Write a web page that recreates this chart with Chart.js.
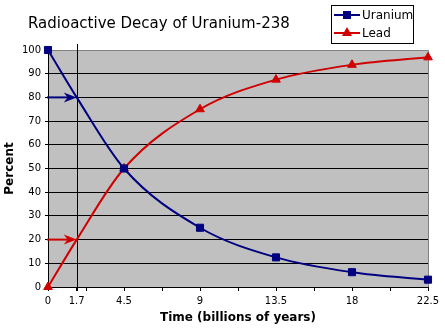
<!DOCTYPE html>
<html>
<head>
<meta charset="utf-8">
<script src="https://cdn.jsdelivr.net/npm/chart.js@4"></script>
<style>
  html, body { margin: 0; padding: 0; background: #fff; }
  #wrap { width: 445px; height: 328px; position: relative; }
</style>
</head>
<body>
<div id="wrap"><canvas id="decay"></canvas></div>
<script>
// data
const years = [0, 1.7, 4.5, 9, 13.5, 18, 22.5];
const uranium = [100, 80, 50, 25, 12.5, 6.25, 3.1];
const lead = [0, 20, 50, 75, 87.5, 93.75, 96.9];
const showMarker = [true, false, true, true, true, true, true];
const xLabels = [0, 1.7, 4.5, 9, 13.5, 18, 22.5];
const xMinorTicks = [2.25, 6.75, 11.25, 15.75, 20.25];
const markedYear = 1.7;
const arrowLevels = [80, 20];

const NAVY = '#000080';
const RED = '#d00000';
const FONT = "'DejaVu Sans', Verdana, sans-serif";

function pts(ys) {
    return years.map((x, i) => ({ x: x, y: ys[i] }));
}

// gray plot area, borders, 1.7 line, arrows, title and legend
const decorPlugin = {
    id: 'decor',
    beforeDraw(chart) {
        const { ctx, chartArea: a } = chart;
        ctx.save();
        ctx.fillStyle = '#c0c0c0';
        ctx.fillRect(a.left, a.top, a.right - a.left, a.bottom - a.top);
        ctx.restore();
    },
    beforeDatasetsDraw(chart) {
        const { ctx, chartArea: a, scales } = chart;
        ctx.save();
        // gray frame top/right
        ctx.strokeStyle = '#808080';
        ctx.lineWidth = 1;
        ctx.beginPath();
        ctx.moveTo(a.left, a.top + 0.5);
        ctx.lineTo(a.right + 0.5, a.top + 0.5);
        ctx.lineTo(a.right + 0.5, a.bottom);
        ctx.stroke();
        // vertical line at 1.7
        const vx = Math.round(scales.x.getPixelForValue(markedYear)) + 0.5;
        ctx.strokeStyle = '#000';
        ctx.beginPath();
        ctx.moveTo(vx, a.top - 6);
        ctx.lineTo(vx, a.bottom + 4);
        ctx.stroke();
        ctx.restore();
    },
    afterDatasetsDraw(chart) {
        const { ctx, chartArea: a, scales } = chart;
        const tipX = scales.x.getPixelForValue(markedYear);
        const colors = [NAVY, RED];
        ctx.save();
        arrowLevels.forEach((lvl, i) => {
            const y = scales.y.getPixelForValue(lvl);
            ctx.strokeStyle = colors[i];
            ctx.fillStyle = colors[i];
            ctx.lineWidth = 2;
            ctx.beginPath();
            ctx.moveTo(a.left - 1, y);
            ctx.lineTo(tipX - 6, y);
            ctx.stroke();
            ctx.beginPath();
            ctx.moveTo(tipX, y);
            ctx.lineTo(tipX - 13, y - 5);
            ctx.lineTo(tipX - 9, y);
            ctx.lineTo(tipX - 13, y + 5);
            ctx.closePath();
            ctx.fill();
        });
        ctx.restore();
    },
    afterDraw(chart) {
        const { ctx } = chart;
        ctx.save();
        // title
        ctx.fillStyle = '#000';
        ctx.font = '15px ' + FONT;
        ctx.textBaseline = 'middle';
        ctx.textAlign = 'left';
        ctx.fillText('Radioactive Decay of Uranium-238', 28, 24);
        // legend box
        ctx.strokeStyle = '#000';
        ctx.lineWidth = 1;
        ctx.strokeRect(331.5, 5.5, 82, 38);
        ctx.font = '12px ' + FONT;
        chart.data.datasets.forEach((ds, i) => {
            const y = 15 + i * 18;
            ctx.strokeStyle = ds.borderColor;
            ctx.lineWidth = 2;
            ctx.beginPath();
            ctx.moveTo(334, y);
            ctx.lineTo(360, y);
            ctx.stroke();
            ctx.fillStyle = ds.pointBackgroundColor;
            if (ds.pointStyle === 'rect') {
                ctx.fillRect(343, y - 4, 8, 8);
            } else {
                ctx.beginPath();
                ctx.moveTo(347, y - 6);
                ctx.lineTo(352, y + 3);
                ctx.lineTo(342, y + 3);
                ctx.closePath();
                ctx.fill();
            }
            ctx.fillStyle = '#000';
            ctx.fillText(ds.label, 362, y + 1);
        });
        ctx.restore();
    }
};

new Chart(document.getElementById('decay'), {
    type: 'line',
    data: {
        datasets: [{
            label: 'Uranium',
            data: pts(uranium),
            borderColor: NAVY,
            borderWidth: 2,
            pointStyle: 'rect',
            pointBackgroundColor: NAVY,
            pointBorderColor: NAVY,
            pointBorderWidth: 1,
            pointRadius: showMarker.map(s => s ? 5 : 0),
            cubicInterpolationMode: 'monotone',
            clip: false
        }, {
            label: 'Lead',
            data: pts(lead),
            borderColor: RED,
            borderWidth: 2,
            pointStyle: 'triangle',
            pointBackgroundColor: RED,
            pointBorderColor: RED,
            pointBorderWidth: 1,
            pointRadius: showMarker.map(s => s ? 5 : 0),
            cubicInterpolationMode: 'monotone',
            clip: false
        }]
    },
    options: {
        responsive: true,
        maintainAspectRatio: false,
        animation: false,
        layout: { padding: { top: 50, right: 17, left: 0, bottom: 0 } },
        plugins: {
            legend: { display: false },
            title: { display: false },
            tooltip: { enabled: false }
        },
        scales: {
            x: {
                type: 'linear',
                min: 0,
                max: 22.5,
                afterBuildTicks(scale) {
                    scale.ticks = xLabels.concat(xMinorTicks)
                        .sort((p, q) => p - q)
                        .map(v => ({ value: v }));
                },
                afterFit(scale) { scale.height = 41; },
                ticks: {
                    autoSkip: false,
                    maxRotation: 0,
                    padding: 4,
                    color: '#000',
                    font: { family: FONT, size: 10 },
                    callback: v => xLabels.includes(v) ? String(v) : ''
                },
                grid: {
                    drawOnChartArea: false,
                    drawTicks: true,
                    tickLength: 4,
                    color: '#000'
                },
                border: { color: '#000', width: 1 },
                title: {
                    display: true,
                    text: 'Time (billions of years)',
                    color: '#000',
                    font: { family: FONT, size: 12, weight: 'bold' },
                    padding: { top: 0, bottom: 3 }
                }
            },
            y: {
                min: 0,
                max: 100,
                afterFit(scale) { scale.width = 48; },
                ticks: {
                    stepSize: 10,
                    padding: 4,
                    color: '#000',
                    font: { family: FONT, size: 10 }
                },
                grid: {
                    color: ctx => ctx.tick && ctx.tick.value === 100 ? '#808080' : '#000',
                    tickLength: 3,
                    lineWidth: 1
                },
                border: { color: '#000', width: 1 },
                title: {
                    display: true,
                    text: 'Percent',
                    color: '#000',
                    font: { family: FONT, size: 12, weight: 'bold' },
                    padding: { top: 3, bottom: 0 }
                }
            }
        }
    },
    plugins: [decorPlugin]
});
</script>
</body>
</html>
